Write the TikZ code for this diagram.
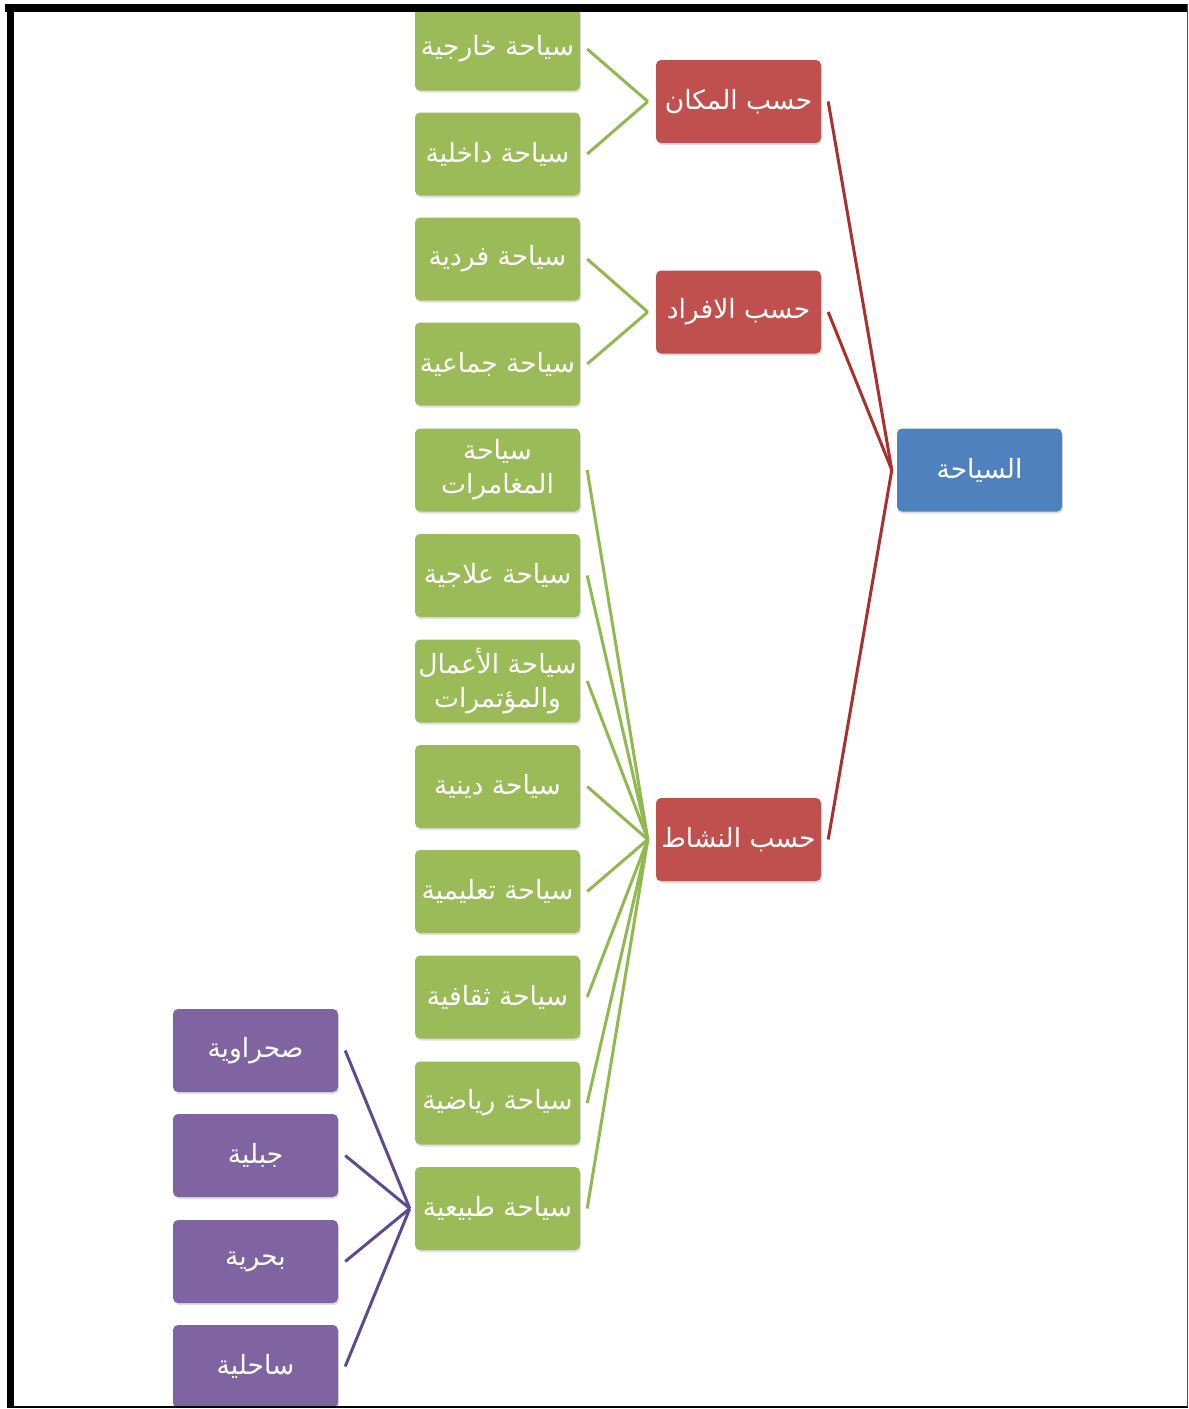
\documentclass[tikz,border=0pt]{standalone}
\usepackage{fontspec}
\usetikzlibrary{shadows}
\newfontfamily\arabicfont[Script=Arabic]{DejaVu Sans}
\TeXXeTstate=1
\definecolor{cgreen}{HTML}{9BBB59}
\definecolor{cred}{HTML}{C0504D}
\definecolor{cblue}{HTML}{4F81BD}
\definecolor{cpurple}{HTML}{8064A2}
\definecolor{lgreen}{HTML}{92B850}
\definecolor{lred}{HTML}{A8302E}
\definecolor{lpurple}{HTML}{5F4A8E}
\newcommand{\ar}[1]{\beginR #1\endR}
\tikzset{
  boxbase/.style={rectangle, rounded corners=5pt, minimum width=165pt, minimum height=83pt,
    inner sep=1pt, text=white, align=center,
    font=\arabicfont\fontsize{26.5}{34}\selectfont,
    drop shadow={opacity=0.25, shadow xshift=1pt, shadow yshift=-2pt}},
  gbox/.style={boxbase, fill=cgreen},
  rbox/.style={boxbase, fill=cred},
  bbox/.style={boxbase, fill=cblue},
  pbox/.style={boxbase, fill=cpurple},
  gline/.style={draw=lgreen, line width=3pt},
  rline/.style={draw=lred, line width=3pt},
  pline/.style={draw=lpurple, line width=3pt}
}
\begin{document}
\begin{tikzpicture}[x=1pt,y=-1pt]
\useasboundingbox (0,0) rectangle (1189,1409);
\fill[white] (0,0) rectangle (1189,1409);
% green column
\node[gbox] (g1) at (497.5,49) {\ar{سياحة خارجية}};
\node[gbox] (g2) at (497.5,154) {\ar{سياحة داخلية}};
\node[gbox] (g3) at (497.5,259) {\ar{سياحة فردية}};
\node[gbox] (g4) at (497.5,364) {\ar{سياحة جماعية}};
\node[gbox] (g5) at (497.5,470) {\ar{سياحة}\\\ar{المغامرات}};
\node[gbox] (g6) at (497.5,575.5) {\ar{سياحة علاجية}};
\node[gbox] (g7) at (497.5,681) {\ar{سياحة الأعمال}\\\ar{والمؤتمرات}};
\node[gbox] (g8) at (497.5,786.5) {\ar{سياحة دينية}};
\node[gbox] (g9) at (497.5,891.5) {\ar{سياحة تعليمية}};
\node[gbox] (g10) at (497.5,997) {\ar{سياحة ثقافية}};
\node[gbox] (g11) at (497.5,1103) {\ar{سياحة رياضية}};
\node[gbox] (g12) at (497.5,1208.5) {\ar{سياحة طبيعية}};
% red
\node[rbox] (r1) at (738.5,101.5) {\ar{حسب المكان}};
\node[rbox] (r2) at (738.5,312) {\ar{حسب الافراد}};
\node[rbox] (r3) at (738.5,839.5) {\ar{حسب النشاط}};
% blue
\node[bbox] (b) at (979.5,470) {\ar{السياحة}};
% purple
\node[pbox] (p1) at (255.5,1050.5) {\ar{صحراوية}};
\node[pbox] (p2) at (255.5,1155.5) {\ar{جبلية}};
\node[pbox] (p3) at (255.5,1261.5) {\ar{بحرية}};
\node[pbox] (p4) at (255.5,1366.5) {\ar{ساحلية}};
% red connectors
\coordinate (bj) at ([xshift=-5pt]b.west);
\foreach \r in {r1,r2,r3} \draw[rline] (bj) -- ([xshift=7pt]\r.east);
% green connectors
\coordinate (j1) at ([xshift=-8pt]r1.west);
\coordinate (j2) at ([xshift=-8pt]r2.west);
\coordinate (j3) at ([xshift=-8pt]r3.west);
\foreach \g in {g1,g2} \draw[gline] (j1) -- ([xshift=7pt]\g.east);
\foreach \g in {g3,g4} \draw[gline] (j2) -- ([xshift=7pt]\g.east);
\foreach \g in {g5,g6,g7,g8,g9,g10,g11,g12} \draw[gline] (j3) -- ([xshift=7pt]\g.east);
% purple connectors
\coordinate (j4) at ([xshift=-5pt]g12.west);
\foreach \p in {p1,p2,p3,p4} \draw[pline] (j4) -- ([xshift=7pt]\p.east);
% frame
\fill[white] (0,0) rectangle (1189,4);
\fill[black] (5,4) rectangle (1188,12);
\fill[black] (7,4) rectangle (14,1409);
\fill[white] (0,1408) rectangle (1189,1409);
\draw[black, line width=1.8pt] (7,1407) -- (1188,1407);
\draw[gray!60!black, line width=1.6pt] (1187.5,4) -- (1187.5,1407);
\end{tikzpicture}
\end{document}
